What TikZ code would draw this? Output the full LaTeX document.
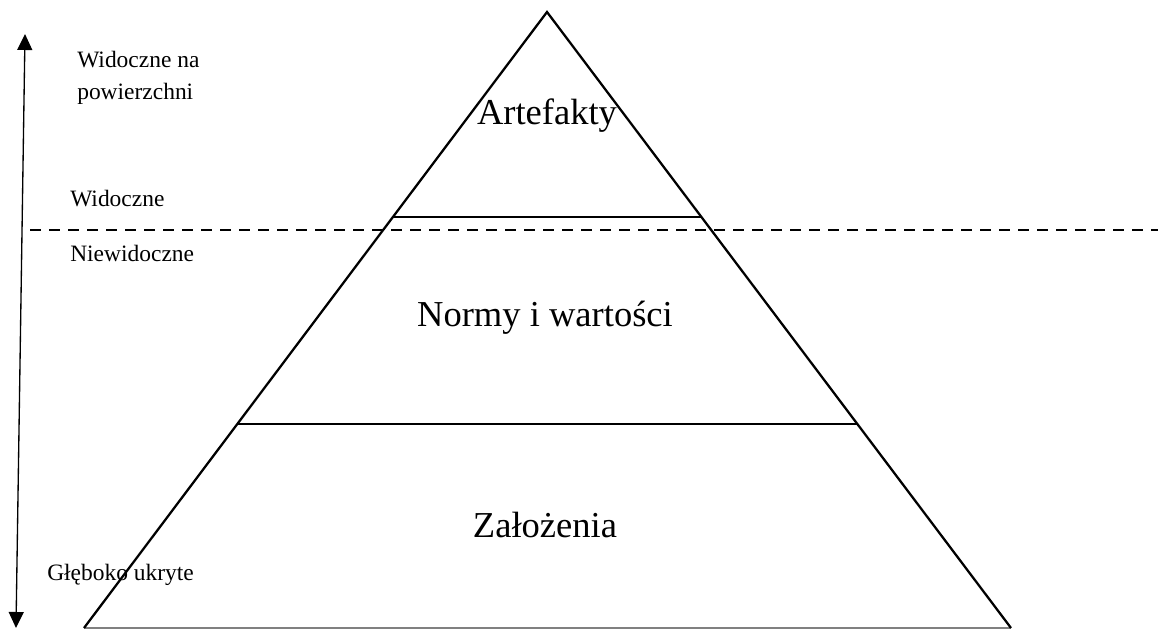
\documentclass[tikz,border=0pt]{standalone}
\usepackage{fontspec}
\setmainfont{Liberation Serif}
\usetikzlibrary{arrows.meta,calc}
\begin{document}
\begin{tikzpicture}[x=0.75pt,y=-0.75pt,
  side/.style={line width=1.7pt,black},
  bandline/.style={line width=1.7pt,black},
  baseline/.style={line width=0.8pt,gray},
  waterline/.style={line width=1.7pt,dash pattern=on 8.25pt off 6pt},
  depth/.style={line width=1pt,{Triangle[width=11.25pt,length=12pt]}-{Triangle[width=11.25pt,length=12pt]}},
  small/.style={font=\fontsize{17.6}{24}\selectfont,inner sep=0pt,anchor=base west,align=left},
  big/.style={font=\fontsize{27.4}{32}\selectfont,inner sep=0pt,anchor=base}]
  \useasboundingbox (0,0) rectangle (1158,630);

  % pyramid corners
  \coordinate (apex) at (547,12);
  \coordinate (bl) at (84,628);
  \coordinate (br) at (1011,628);

  % level boundaries on the sides
  \coordinate (l1) at ($(apex)!0.3328!(bl)$);
  \coordinate (r1) at ($(apex)!0.3328!(br)$);
  \coordinate (l2) at ($(apex)!0.6688!(bl)$);
  \coordinate (r2) at ($(apex)!0.6688!(br)$);

  \draw[baseline] (bl) -- (br);
  \draw[side] (bl) -- (apex) -- (br);
  \draw[bandline] (l1) -- (r1);
  \draw[bandline] (l2) -- (r2);

  % visibility line
  \coordinate (wl) at (30,230);
  \coordinate (wr) at (1158,230);
  \draw[waterline] (wl) -- (wr);

  % depth arrow
  \coordinate (atop) at (25,34);
  \coordinate (abot) at (16,628);
  \draw[depth] (atop) -- (abot);

  % level names
  \node[big] (art) at (547,125) {Artefakty};
  \node[big] (norm) at (545,327) {Normy i wartości};
  \node[big] (zal) at (545,538) {Założenia};

  % depth labels (multi-line node sits on its last baseline)
  \node[small] (surf) at (77,100) {Widoczne na\\powierzchni};
  \node[small] (vis) at (70,207) {Widoczne};
  \node[small] (invis) at (70,262) {Niewidoczne};
  \node[small] (deep) at (47,581) {Głęboko ukryte};
\end{tikzpicture}
\end{document}
